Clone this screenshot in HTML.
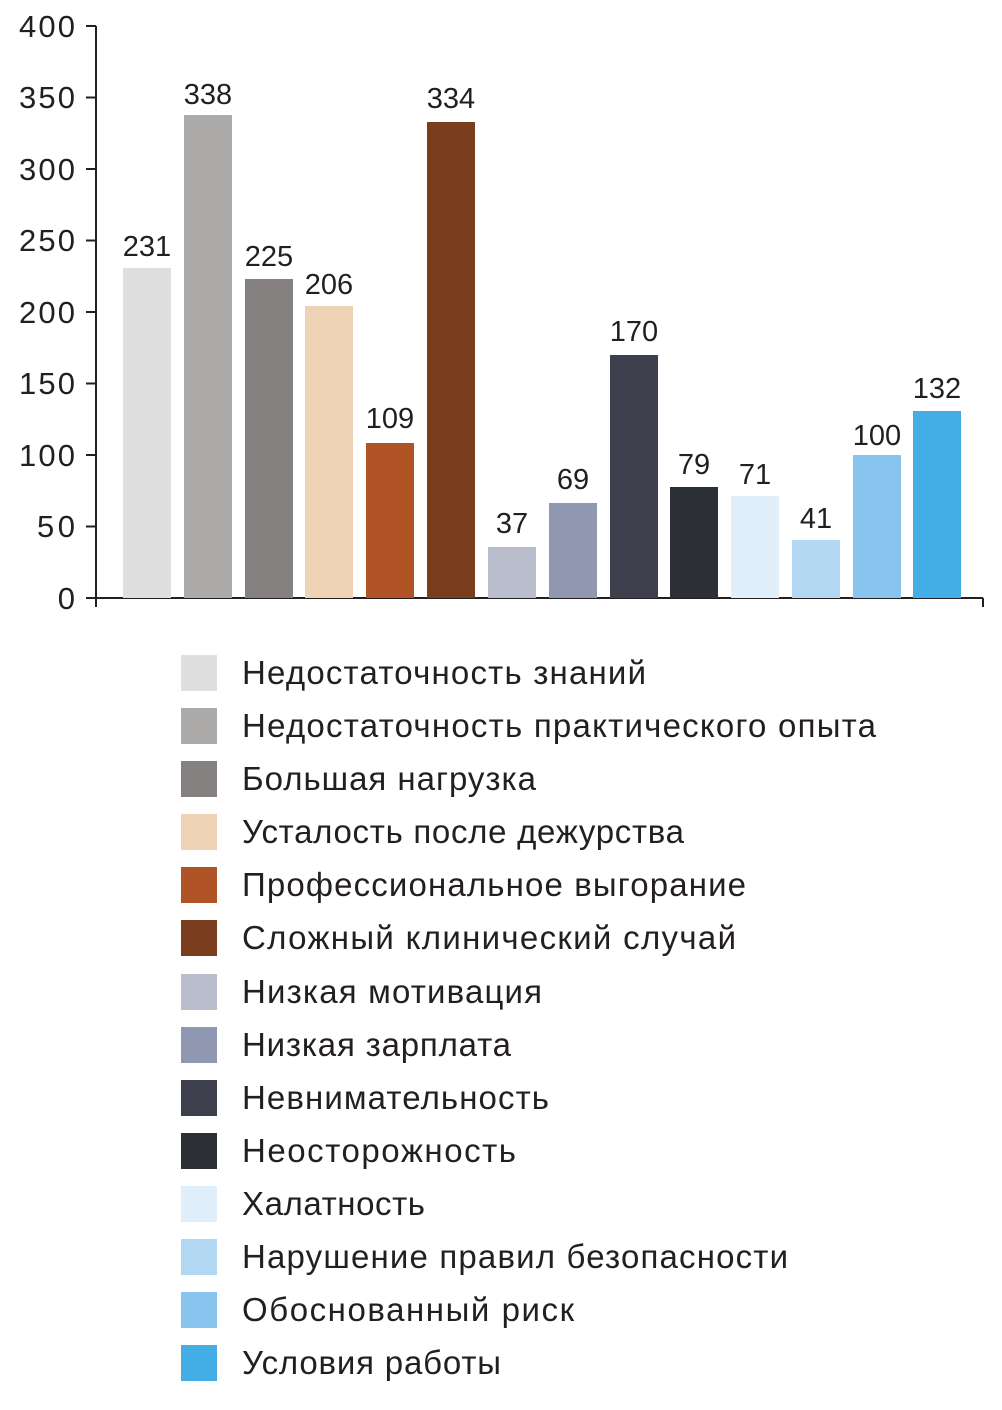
<!DOCTYPE html>
<html><head><meta charset="utf-8"><style>
html,body{margin:0;padding:0;background:#fff;}
svg{display:block;font-family:"Liberation Sans","DejaVu Sans",sans-serif;}
</style></head><body>
<svg width="1002" height="1410" viewBox="0 0 1002 1410" xmlns="http://www.w3.org/2000/svg">
<g stroke="#231f20" stroke-width="2" fill="none">
<line x1="96" y1="26" x2="96" y2="607"/>
<line x1="96" y1="598" x2="983" y2="598"/>
<line x1="983" y1="598" x2="983" y2="607"/>
<line x1="86" y1="26" x2="96" y2="26"/>
<line x1="86" y1="97.5" x2="96" y2="97.5"/>
<line x1="86" y1="169" x2="96" y2="169"/>
<line x1="86" y1="240.5" x2="96" y2="240.5"/>
<line x1="86" y1="312" x2="96" y2="312"/>
<line x1="86" y1="383.5" x2="96" y2="383.5"/>
<line x1="86" y1="455" x2="96" y2="455"/>
<line x1="86" y1="526.5" x2="96" y2="526.5"/>
<line x1="86" y1="598" x2="96" y2="598"/>
</g>
<g font-size="31" fill="#231f20" text-anchor="end">
<text x="75" y="37" textLength="56">400</text><text x="75" y="108" textLength="56">350</text><text x="75" y="180" textLength="56">300</text>
<text x="75" y="251" textLength="56">250</text><text x="75" y="323" textLength="56">200</text><text x="75" y="394" textLength="56">150</text>
<text x="75" y="466" textLength="56">100</text><text x="75" y="537" textLength="38">50</text><text x="75" y="609">0</text>
</g>
<g>
<rect x="123" y="268" width="48" height="330" fill="#e0dfdf"/>
<rect x="184" y="115" width="48" height="483" fill="#acabaa"/>
<rect x="245" y="279" width="48" height="319" fill="#858180"/>
<rect x="305" y="306" width="48" height="292" fill="#efd3b6"/>
<rect x="366" y="443" width="48" height="155" fill="#b05425"/>
<rect x="427" y="122" width="48" height="476" fill="#7a3d1d"/>
<rect x="488" y="547" width="48" height="51" fill="#b9bdcc"/>
<rect x="549" y="503" width="48" height="95" fill="#8f98b0"/>
<rect x="610" y="355" width="48" height="243" fill="#3d3f4d"/>
<rect x="670" y="487" width="48" height="111" fill="#2d2f36"/>
<rect x="731" y="496" width="48" height="102" fill="#e0eefa"/>
<rect x="792" y="540" width="48" height="58" fill="#b3d8f4"/>
<rect x="853" y="455" width="48" height="143" fill="#87c4ee"/>
<rect x="913" y="411" width="48" height="187" fill="#45ade5"/>
</g>
<g font-size="29" fill="#231f20" text-anchor="middle">
<text x="147" y="256">231</text><text x="208" y="104">338</text><text x="269" y="266">225</text>
<text x="329" y="294">206</text><text x="390" y="428">109</text><text x="451" y="108">334</text>
<text x="512" y="533">37</text><text x="573" y="489">69</text><text x="634" y="341">170</text>
<text x="694" y="474">79</text><text x="755" y="484">71</text><text x="816" y="528">41</text>
<text x="877" y="445">100</text><text x="937" y="398">132</text>
</g>
<g>
<rect x="181" y="655" width="36" height="36" fill="#e0dfdf"/>
<rect x="181" y="708" width="36" height="36" fill="#acabaa"/>
<rect x="181" y="761" width="36" height="36" fill="#858180"/>
<rect x="181" y="814" width="36" height="36" fill="#efd3b6"/>
<rect x="181" y="867" width="36" height="36" fill="#b05425"/>
<rect x="181" y="920" width="36" height="36" fill="#7a3d1d"/>
<rect x="181" y="974" width="36" height="36" fill="#b9bdcc"/>
<rect x="181" y="1027" width="36" height="36" fill="#8f98b0"/>
<rect x="181" y="1080" width="36" height="36" fill="#3d3f4d"/>
<rect x="181" y="1133" width="36" height="36" fill="#2d2f36"/>
<rect x="181" y="1186" width="36" height="36" fill="#e0eefa"/>
<rect x="181" y="1239" width="36" height="36" fill="#b3d8f4"/>
<rect x="181" y="1292" width="36" height="36" fill="#87c4ee"/>
<rect x="181" y="1345" width="36" height="36" fill="#45ade5"/>
</g>
<g font-size="33" fill="#231f20">
<text x="242" y="684" textLength="404">Недостаточность знаний</text>
<text x="242" y="737" textLength="634">Недостаточность практического опыта</text>
<text x="242" y="790" textLength="294">Большая нагрузка</text>
<text x="242" y="843" textLength="442">Усталость после дежурства</text>
<text x="242" y="896" textLength="504">Профессиональное выгорание</text>
<text x="242" y="949" textLength="494">Сложный клинический случай</text>
<text x="242" y="1003" textLength="300">Низкая мотивация</text>
<text x="242" y="1056" textLength="269">Низкая зарплата</text>
<text x="242" y="1109" textLength="307">Невнимательность</text>
<text x="242" y="1162" textLength="274">Неосторожность</text>
<text x="242" y="1215" textLength="183">Халатность</text>
<text x="242" y="1268" textLength="546">Нарушение правил безопасности</text>
<text x="242" y="1321" textLength="332">Обоснованный риск</text>
<text x="242" y="1374" textLength="259">Условия работы</text>
</g>
</svg>
</body></html>
